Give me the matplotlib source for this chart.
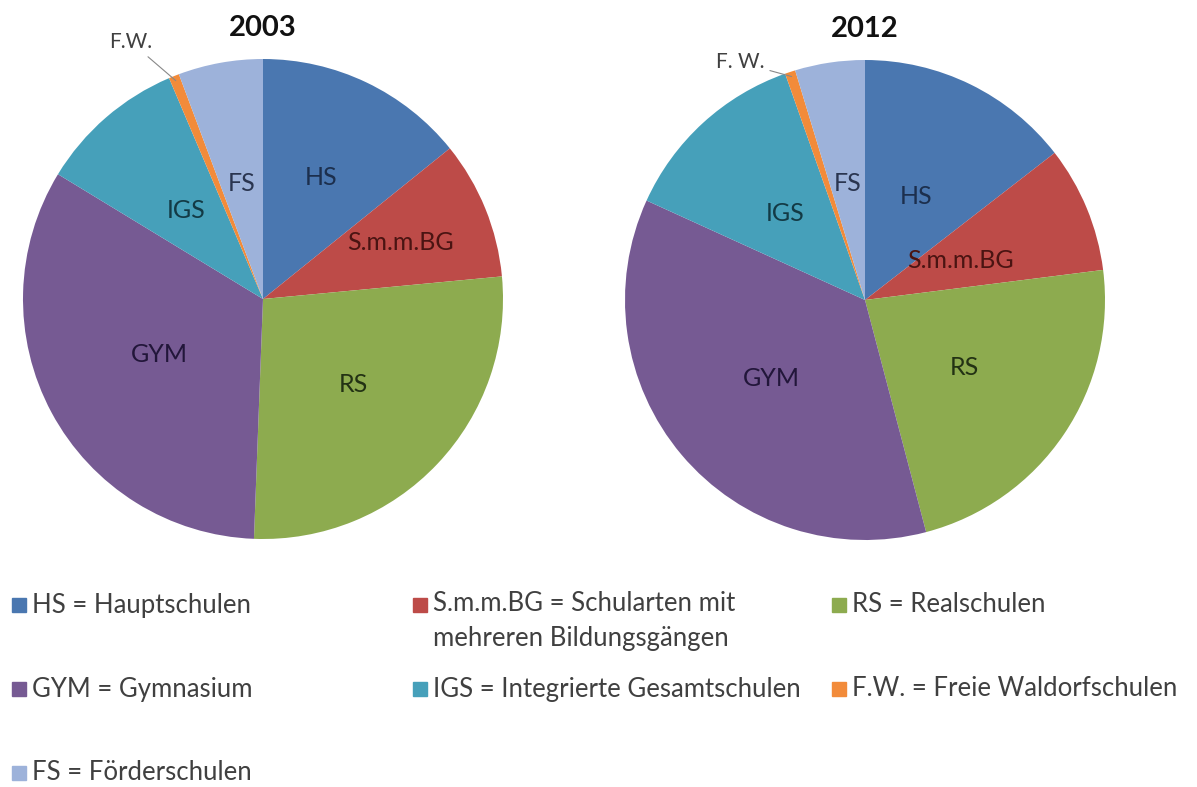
import numpy as np
import matplotlib
matplotlib.use("Agg")
import matplotlib.pyplot as plt
from matplotlib.patches import Rectangle

plt.rcParams['font.family'] = ['Lato', 'DejaVu Sans']

# Daten (Anteile in %)
kuerzel = ["HS", "S.m.m.BG", "RS", "GYM", "IGS", "F.W.", "FS"]
anteile_2003 = [14.2, 9.3, 27.1, 33.1, 9.9, 0.7, 5.7]
anteile_2012 = [14.5, 8.5, 22.9, 35.9, 12.8, 0.7, 4.7]
legende = ["HS = Hauptschulen",
           "S.m.m.BG = Schularten mit\nmehreren Bildungsgängen",
           "RS = Realschulen",
           "GYM = Gymnasium",
           "IGS = Integrierte Gesamtschulen",
           "F.W. = Freie Waldorfschulen",
           "FS = Förderschulen"]

farben = ['#4a77b0', '#bd4b48', '#8dab4f', '#765a93', '#46a0ba', '#f28b3a', '#9db2da']
textfarben = ['#1c2f4d', '#4a1412', '#233214', '#22163a', '#133a45', '#333333', '#2a3550']


def zeichne_torte(ax, werte, titel, abstaende, fw_text, fw_pos):
    """Zeichnet eine Torte im Excel-Stil mit Beschriftungen in den Segmenten."""
    wedges, _ = ax.pie(werte, colors=farben, startangle=90, counterclock=False,
                       radius=1.0, wedgeprops=dict(linewidth=0))
    for i, w in enumerate(wedges):
        mitte = np.deg2rad((w.theta1 + w.theta2) / 2)
        if kuerzel[i] == "F.W.":
            ax.annotate(fw_text, xy=(np.cos(mitte) * 0.98, np.sin(mitte) * 0.98),
                        xytext=fw_pos, ha='center', va='center', fontsize=15,
                        color='#404040',
                        arrowprops=dict(arrowstyle='-', color='#888888', lw=0.8,
                                        shrinkA=2, shrinkB=0))
            continue
        r = abstaende[i]
        ax.text(r * np.cos(mitte), r * np.sin(mitte), kuerzel[i], ha='center',
                va='center', fontsize=18, color=textfarben[i])
    ax.text(0, 1.13, titel, ha='center', va='center', fontsize=21,
            fontweight='bold', color='#111111')
    ax.set_xlim(-1, 1)
    ax.set_ylim(-1, 1)
    ax.set_aspect('equal')
    ax.axis('off')


W, H = 1197, 787
fig = plt.figure(figsize=(W / 100, H / 100), dpi=100)

ax1 = fig.add_axes([(263 - 240) / W, (H - 299 - 240) / H, 480 / W, 480 / H])
zeichne_torte(ax1, anteile_2003, "2003",
              [0.56, 0.62, 0.52, 0.49, 0.49, 0, 0.49], "F.W.", (-0.55, 1.07))

ax2 = fig.add_axes([(865 - 240) / W, (H - 300 - 240) / H, 480 / W, 480 / H])
zeichne_torte(ax2, anteile_2012, "2012",
              [0.48, 0.43, 0.50, 0.51, 0.49, 0, 0.49], "F. W.", (-0.52, 0.99))

# Legende (drei Spalten, zeilenweise)
spalten_x = [12, 413, 832]
zeilen_y = [605, 689, 773]
for i, text in enumerate(legende):
    sx = spalten_x[i % 3]
    sy = zeilen_y[i // 3]
    fig.patches.append(Rectangle((sx / W, (H - sy - 7) / H), 14 / W, 14 / H,
                                 transform=fig.transFigure, color=farben[i]))
    if '\n' in text:
        fig.text((sx + 20) / W, (H - sy + 14) / H, text, ha='left', va='top',
                 fontsize=18.5, color='#404040', linespacing=1.5)
    else:
        fig.text((sx + 20) / W, (H - sy) / H, text, ha='left', va='center',
                 fontsize=18.5, color='#404040')

fig.savefig("out.png", dpi=100)
